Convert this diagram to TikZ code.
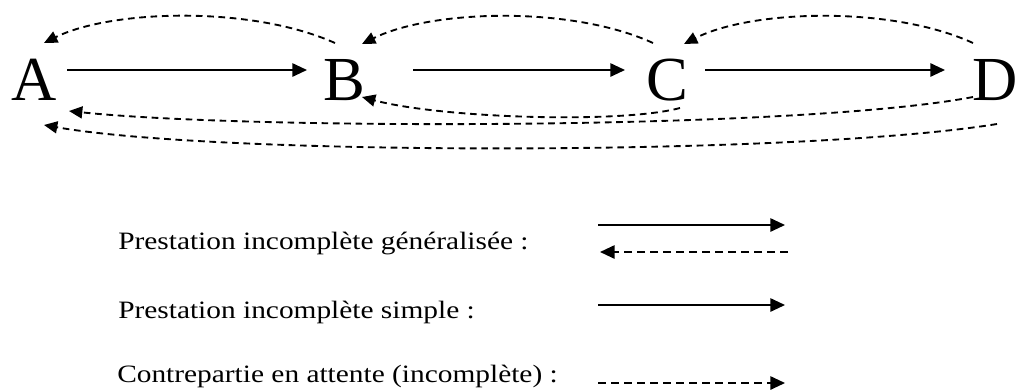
\documentclass[tikz,border=0pt]{standalone}
\usepackage{fontspec}
\setmainfont{Liberation Serif}
\newfontfamily\bigserif{Liberation Serif}
\usetikzlibrary{arrows.meta,calc}
\begin{document}
\begin{tikzpicture}[x=0.75pt,y=-0.75pt,
 letter/.style={anchor=base,inner sep=0pt,font=\bigserif\fontsize{47pt}{47pt}\selectfont},
 solidarrow/.style={line width=1.4pt,-{Triangle[length=11pt,width=10pt]}},
 dasharrow/.style={line width=1.4pt,dash pattern=on 5pt off 3.5pt,-{Triangle[length=10pt,width=9pt]}},
 legdash/.style={line width=1.4pt,dash pattern=on 6pt off 3.75pt,-{Triangle[length=11pt,width=10pt]}},
 legtext/.style={anchor=base west,inner sep=0pt,font=\bigserif\fontsize{18.75pt}{20pt}\selectfont}]
\useasboundingbox (0,0) rectangle (1018,390);
\node[letter] (A) at (34,100) {A};
\node[letter] (B) at (344,100) {B};
\node[letter] (C) at (667,100) {C};
\node[letter] (D) at (995,100) {D};
% solid arrows
\draw[solidarrow] ($(A.base)+(33,-30)$) -- ($(B.base)+(-37,-30)$);
\draw[solidarrow] ($(B.base)+(69,-30)$) -- ($(C.base)+(-42,-30)$);
\draw[solidarrow] ($(C.base)+(38,-30)$) -- ($(D.base)+(-50,-30)$);
% top arcs
\draw[dasharrow] ($(B.base)+(-9,-57)$) .. controls (250,5) and (110,10) .. ($(A.base)+(10,-57)$);
\draw[dasharrow] ($(C.base)+(-14,-57)$) .. controls (570,5) and (430,10) .. ($(B.base)+(18,-56)$);
\draw[dasharrow] ($(D.base)+(-22,-57)$) .. controls (890,5) and (750,10) .. ($(C.base)+(17,-56)$);
% bottom arcs
\draw[dasharrow] ($(C.base)+(13,8)$) .. controls (620,124) and (440,118) .. ($(B.base)+(18,-3)$);
\draw[dasharrow] ($(D.base)+(-22,-3)$) .. controls (800,130) and (250,130) .. ($(A.base)+(35,11)$);
\draw[dasharrow] ($(D.base)+(2,24)$) .. controls (800,156) and (220,156) .. ($(A.base)+(10,25)$);
% legend
\node[legtext] (t1) at (118,249) {\scalebox{1.175}[1]{Prestation incomplète généralisée :}};
\node[legtext] (t2) at (118,318) {\scalebox{1.175}[1]{Prestation incomplète simple :}};
\node[legtext] (t3) at (117,382) {\scalebox{1.175}[1]{Contrepartie en attente (incomplète) :}};
\coordinate (l1a) at (598,225);
\coordinate (l1b) at (785,225);
\coordinate (l2a) at (788,252);
\coordinate (l2b) at (600,252);
\coordinate (l3a) at (598,305);
\coordinate (l3b) at (785,305);
\coordinate (l4a) at (598,383);
\coordinate (l4b) at (785,383);
\draw[solidarrow] (l1a) -- (l1b);
\draw[legdash] (l2a) -- (l2b);
\draw[solidarrow] (l3a) -- (l3b);
\draw[legdash] (l4a) -- (l4b);
\end{tikzpicture}
\end{document}
